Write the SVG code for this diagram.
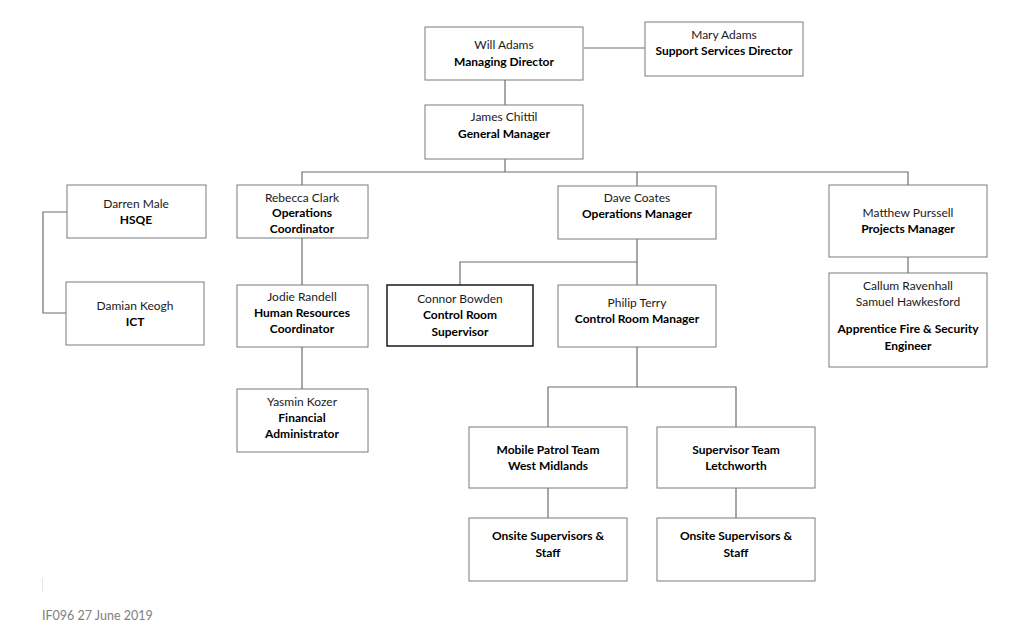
<svg xmlns="http://www.w3.org/2000/svg" width="1024" height="636" viewBox="0 0 1024 636">
<style>
.box{fill:#fff;stroke:#7a7a7a;stroke-width:1}
.dark{stroke:#1a1a1a;stroke-width:1.5}
text{font-family:Lato,"Open Sans",sans-serif;font-size:12px;fill:#1a1a1a;text-anchor:middle}
.b{font-weight:bold;fill:#000}
.c{fill:none;stroke:#6e6e6e;stroke-width:1.2}
.foot{text-anchor:start;fill:#808080;font-size:12.5px}
</style>
<rect width="1024" height="636" fill="#fff"/>
<g id="connectors">
<path class="c" d="M584 48H645"/>
<path class="c" d="M505 79V105"/>
<path class="c" d="M505 159V172M302 185V172H908V185M637 172V186"/>
<path class="c" d="M302 238V285M302 347V389"/>
<path class="c" d="M67 212H43V313H66"/>
<path class="c" d="M637 239V285M637 262H460V285"/>
<path class="c" d="M908 257V273"/>
<path class="c" d="M637 347V387M548 427V387H736V427"/>
<path class="c" d="M548 488V518M736 488V518"/>
</g>
<g id="will"><rect class="box" x="425" y="27" width="158" height="53"/><text x="504" y="49">Will Adams</text><text class="b" x="504" y="66">Managing Director</text></g>
<g id="mary"><rect class="box" x="645" y="22" width="158" height="54"/><text x="724" y="39">Mary Adams</text><text class="b" x="724" y="55">Support Services Director</text></g>
<g id="james"><rect class="box" x="425" y="105" width="158" height="54"/><text x="504" y="121">James Chittil</text><text class="b" x="504" y="138">General Manager</text></g>
<g id="darren"><rect class="box" x="67" y="185" width="139" height="53"/><text x="136" y="208">Darren Male</text><text class="b" x="136" y="224">HSQE</text></g>
<g id="damian"><rect class="box" x="66" y="282" width="138" height="63"/><text x="135" y="310">Damian Keogh</text><text class="b" x="135" y="326">ICT</text></g>
<g id="rebecca"><rect class="box" x="237" y="185" width="131" height="53"/><text x="302" y="202">Rebecca Clark</text><text class="b" x="302" y="217">Operations</text><text class="b" x="302" y="233">Coordinator</text></g>
<g id="jodie"><rect class="box" x="237" y="285" width="131" height="62"/><text x="302" y="301">Jodie Randell</text><text class="b" x="302" y="317">Human Resources</text><text class="b" x="302" y="333">Coordinator</text></g>
<g id="yasmin"><rect class="box" x="237" y="389" width="131" height="63"/><text x="302" y="406">Yasmin Kozer</text><text class="b" x="302" y="422">Financial</text><text class="b" x="302" y="438">Administrator</text></g>
<g id="dave"><rect class="box" x="558" y="186" width="158" height="53"/><text x="637" y="202">Dave Coates</text><text class="b" x="637" y="218">Operations Manager</text></g>
<g id="connor"><rect class="box dark" x="387" y="285" width="146" height="61"/><text x="460" y="303">Connor Bowden</text><text class="b" x="460" y="319">Control Room</text><text class="b" x="460" y="336">Supervisor</text></g>
<g id="philip"><rect class="box" x="558" y="285" width="158" height="62"/><text x="637" y="307">Philip Terry</text><text class="b" x="637" y="323">Control Room Manager</text></g>
<g id="matthew"><rect class="box" x="829" y="185" width="158" height="72"/><text x="908" y="217">Matthew Purssell</text><text class="b" x="908" y="233">Projects Manager</text></g>
<g id="callum"><rect class="box" x="829" y="273" width="158" height="94"/><text x="908" y="290">Callum Ravenhall</text><text x="908" y="306">Samuel Hawkesford</text><text class="b" x="908" y="333">Apprentice Fire &amp; Security</text><text class="b" x="908" y="350">Engineer</text></g>
<g id="mobile"><rect class="box" x="469" y="427" width="158" height="61"/><text class="b" x="548" y="454">Mobile Patrol Team</text><text class="b" x="548" y="470">West Midlands</text></g>
<g id="supervisor"><rect class="box" x="657" y="427" width="158" height="61"/><text class="b" x="736" y="454">Supervisor Team</text><text class="b" x="736" y="470">Letchworth</text></g>
<g id="onsite1"><rect class="box" x="469" y="518" width="158" height="63"/><text class="b" x="548" y="540">Onsite Supervisors &amp;</text><text class="b" x="548" y="557">Staff</text></g>
<g id="onsite2"><rect class="box" x="657" y="518" width="158" height="63"/><text class="b" x="736" y="540">Onsite Supervisors &amp;</text><text class="b" x="736" y="557">Staff</text></g>
<path d="M42.5 578V592" stroke="#e6e6e6" stroke-width="1"/>
<text class="foot" x="42" y="620">IF096 27 June 2019</text>
</svg>
